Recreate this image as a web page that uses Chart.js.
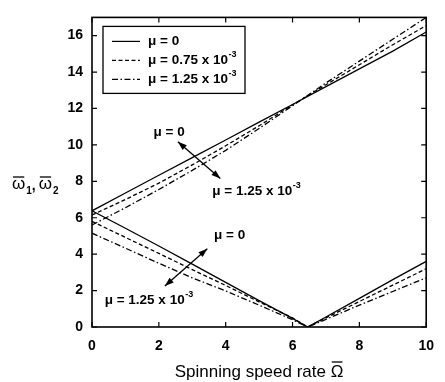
<!DOCTYPE html>
<html>
<head>
<meta charset="utf-8">
<script src="https://cdn.jsdelivr.net/npm/chart.js@4/dist/chart.umd.min.js"></script>
<style>
  html, body { margin: 0; padding: 0; background: #fff; }
  #wrap { width: 445px; height: 382px; }
</style>
</head>
<body>
<div id="wrap"><canvas id="freqChart" width="445" height="382"></canvas></div>
<script>
// ---------- data ----------
const xTicks = [0, 2, 4, 6, 8, 10];
const yTicks = [0, 2, 4, 6, 8, 10, 12, 14, 16];

// upper branch (omega_1)
const omegaUpper = [0, 1, 2, 3, 4, 5, 6, 7, 8, 9, 10];
const upperMu0   = [6.38, 7.36, 8.33, 9.3, 10.27, 11.25, 12.22, 13.2, 14.17, 15.15, 16.2];
const upperMu075 = [6.15, 7.0, 7.9, 8.9, 9.95, 11.05, 12.2, 13.3, 14.4, 15.5, 16.55];
const upperMu125 = [5.6, 6.55, 7.55, 8.6, 9.7, 10.9, 12.15, 13.4, 14.6, 15.8, 17.0];

// lower branch (omega_2)
const omegaLower = [0, 1, 2, 3, 4, 5, 6, 6.45, 7, 8, 9, 10];
const lowerMu0   = [6.38, 5.42, 4.45, 3.45, 2.45, 1.45, 0.47, 0, 0.55, 1.57, 2.6, 3.6];
const lowerMu075 = [5.8, 4.92, 4.04, 3.15, 2.28, 1.38, 0.5, 0, 0.5, 1.4, 2.3, 3.2];
const lowerMu125 = [5.15, 4.33, 3.5, 2.7, 1.98, 1.2, 0.4, 0, 0.42, 1.2, 1.95, 2.7];

const muValues = ['0', '0.75', '1.25'];
const muExp    = ['', '-3', '-3'];
const dashes   = [[], [4, 2.5], [6, 2.5, 1.5, 2.5]];

const FONT = '"Liberation Sans", Arial, Helvetica, sans-serif';

function pts(xs, ys) { return xs.map((v, i) => ({ x: v, y: ys[i] })); }

function series(xs, ys, k) {
  return {
    data: pts(xs, ys),
    borderColor: '#000',
    borderWidth: 1.3,
    borderDash: dashes[k],
    pointRadius: 0,
    tension: 0,
    fill: false
  };
}

// ---------- drawing helpers ----------
function drawMu(ctx, x, y, k, size) {
  ctx.font = `bold ${size}px ${FONT}`;
  ctx.textAlign = 'left';
  ctx.textBaseline = 'middle';
  const txt = 'μ = ' + muValues[k] + (muExp[k] ? ' x 10' : '');
  ctx.fillText(txt, x, y);
  if (muExp[k]) {
    const w = ctx.measureText(txt).width;
    ctx.font = `bold ${Math.round(size * 0.65)}px ${FONT}`;
    ctx.fillText(muExp[k], x + w + 0.5, y - size * 0.42);
  }
}

function head(ctx, x1, y1, x2, y2) {
  const a = Math.atan2(y2 - y1, x2 - x1), L = 9, W = 3.2;
  ctx.beginPath();
  ctx.moveTo(x2, y2);
  ctx.lineTo(x2 - L * Math.cos(a) + W * Math.sin(a), y2 - L * Math.sin(a) - W * Math.cos(a));
  ctx.lineTo(x2 - L * Math.cos(a) - W * Math.sin(a), y2 - L * Math.sin(a) + W * Math.cos(a));
  ctx.closePath();
  ctx.fill();
}

function arrow2(ctx, x1, y1, x2, y2) {
  ctx.beginPath(); ctx.moveTo(x1, y1); ctx.lineTo(x2, y2); ctx.stroke();
  head(ctx, x2, y2, x1, y1);
  head(ctx, x1, y1, x2, y2);
}

// annotation anchors, in data units (Omega, omega)
const upperArrow = [2.57, 10.17, 3.84, 8.15];
const lowerArrow = [3.45, 4.3, 2.18, 2.25];

const frame = {
  id: 'frame',
  afterDraw(chart) {
    const { ctx, chartArea: a, scales: { x, y } } = chart;
    ctx.save();
    ctx.strokeStyle = '#000';
    ctx.fillStyle = '#000';

    // box
    ctx.lineWidth = 1.6;
    ctx.strokeRect(a.left, a.top, a.right - a.left, a.bottom - a.top);

    // inward ticks on all sides
    ctx.lineWidth = 1.2;
    ctx.beginPath();
    xTicks.forEach(v => {
      const p = x.getPixelForValue(v);
      ctx.moveTo(p, a.bottom); ctx.lineTo(p, a.bottom - 5);
      ctx.moveTo(p, a.top); ctx.lineTo(p, a.top + 5);
    });
    yTicks.forEach(v => {
      const p = y.getPixelForValue(v);
      ctx.moveTo(a.left, p); ctx.lineTo(a.left + 5, p);
      ctx.moveTo(a.right, p); ctx.lineTo(a.right - 5, p);
    });
    ctx.stroke();

    // legend
    const lx = a.left + 11, ly = a.top + 9, lw = 142, lh = 67;
    ctx.fillStyle = '#fff';
    ctx.fillRect(lx, ly, lw, lh);
    ctx.fillStyle = '#000';
    ctx.lineWidth = 1.3;
    ctx.strokeRect(lx, ly, lw, lh);
    muValues.forEach((m, k) => {
      const ry = ly + 15 + k * 19;
      ctx.setLineDash(dashes[k]);
      ctx.lineWidth = 1.2;
      ctx.beginPath(); ctx.moveTo(lx + 9, ry); ctx.lineTo(lx + 37, ry); ctx.stroke();
      ctx.setLineDash([]);
      drawMu(ctx, lx + 45, ry, k, 13.5);
    });

    // annotation arrows + labels
    ctx.lineWidth = 1.3;
    arrow2(ctx, x.getPixelForValue(upperArrow[0]), y.getPixelForValue(upperArrow[1]),
                x.getPixelForValue(upperArrow[2]), y.getPixelForValue(upperArrow[3]));
    arrow2(ctx, x.getPixelForValue(lowerArrow[0]), y.getPixelForValue(lowerArrow[1]),
                x.getPixelForValue(lowerArrow[2]), y.getPixelForValue(lowerArrow[3]));
    drawMu(ctx, x.getPixelForValue(1.84), y.getPixelForValue(10.67), 0, 13.5);
    drawMu(ctx, x.getPixelForValue(3.6), y.getPixelForValue(7.45), 2, 13.5);
    drawMu(ctx, x.getPixelForValue(3.65), y.getPixelForValue(5.06), 0, 13.5);
    drawMu(ctx, x.getPixelForValue(0.38), y.getPixelForValue(1.45), 2, 13.5);

    // x title with overbar on Omega
    ctx.font = `17px ${FONT}`;
    ctx.textBaseline = 'middle';
    ctx.textAlign = 'left';
    const t1 = 'Spinning speed rate ', t2 = 'Ω';
    const w1 = ctx.measureText(t1).width, w2 = ctx.measureText(t2).width;
    const cx = (a.left + a.right) / 2, ty = 372;
    const sx = cx - (w1 + w2) / 2;
    ctx.fillText(t1, sx, ty);
    ctx.fillText(t2, sx + w1, ty);
    ctx.lineWidth = 1.3;
    ctx.beginPath(); ctx.moveTo(sx + w1 + 1, ty - 10); ctx.lineTo(sx + w1 + w2 - 1, ty - 10); ctx.stroke();

    // y title: omega-bar_1, omega-bar_2
    let yx = 12; const yy = 184;
    const omegaBar = (sub) => {
      ctx.font = `17px ${FONT}`;
      const w = ctx.measureText('ω').width;
      ctx.fillText('ω', yx, yy);
      ctx.beginPath(); ctx.moveTo(yx + 1, yy - 7); ctx.lineTo(yx + w - 1, yy - 7); ctx.stroke();
      yx += w + 1;
      ctx.font = `bold 10px ${FONT}`;
      ctx.fillText(sub, yx, yy + 7);
      yx += ctx.measureText(sub).width;
    };
    omegaBar('1');
    ctx.font = `bold 14px ${FONT}`;
    ctx.fillText(',', yx, yy + 2);
    yx += 7;
    omegaBar('2');

    ctx.restore();
  }
};

new Chart(document.getElementById('freqChart'), {
  type: 'line',
  data: {
    datasets: [
      series(omegaUpper, upperMu0, 0),
      series(omegaUpper, upperMu075, 1),
      series(omegaUpper, upperMu125, 2),
      series(omegaLower, lowerMu0, 0),
      series(omegaLower, lowerMu075, 1),
      series(omegaLower, lowerMu125, 2)
    ]
  },
  options: {
    responsive: false,
    animation: false,
    layout: { padding: { top: 9, right: 11, left: 0, bottom: 0 } },
    plugins: { legend: { display: false }, tooltip: { enabled: false } },
    scales: {
      x: {
        type: 'linear', min: 0, max: 10,
        grid: { display: false, drawTicks: false },
        border: { display: false },
        afterBuildTicks: s => { s.ticks = xTicks.map(v => ({ value: v })); },
        afterFit: s => { s.height = 55; },
        ticks: { color: '#000', padding: 11, maxRotation: 0, font: { family: FONT, size: 14, weight: 'bold' } }
      },
      y: {
        type: 'linear', min: 0, max: 17,
        grid: { display: false, drawTicks: false },
        border: { display: false },
        afterBuildTicks: s => { s.ticks = yTicks.map(v => ({ value: v })); },
        afterFit: s => { s.width = 92; },
        ticks: { color: '#000', padding: 9, font: { family: FONT, size: 14, weight: 'bold' } }
      }
    }
  },
  plugins: [frame]
});
</script>
</body>
</html>
